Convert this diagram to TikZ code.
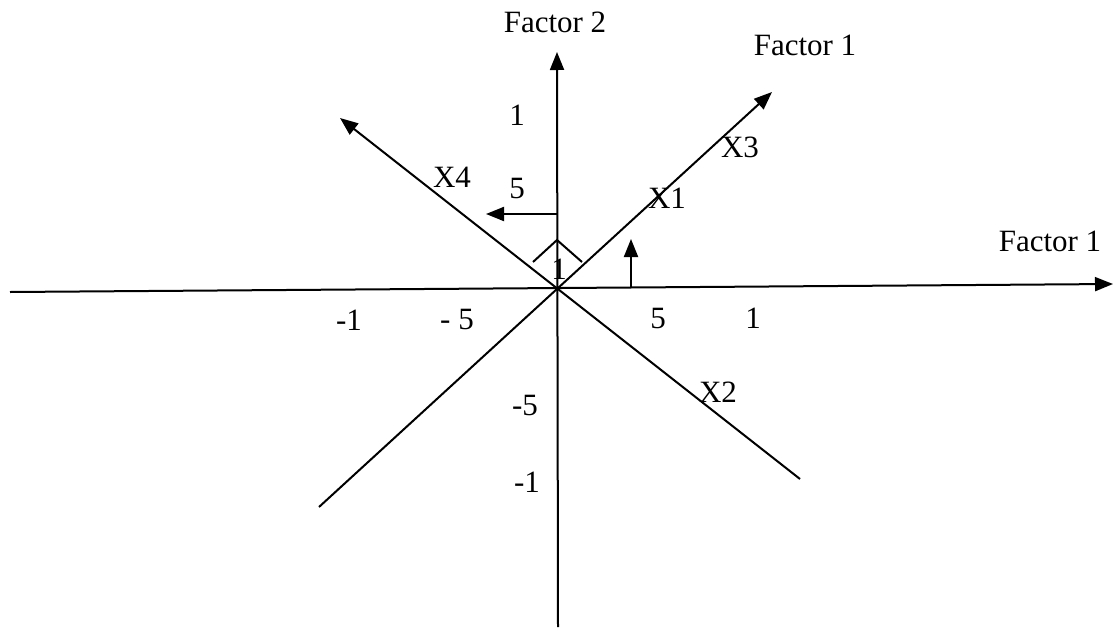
\documentclass[tikz,border=0pt]{standalone}
\usepackage{fontspec}
\setmainfont{Liberation Serif}
\usetikzlibrary{arrows.meta}
\begin{document}
\begin{tikzpicture}[x=1pt,y=-1pt,
  axisline/.style={line width=2pt,black},
  tip/.style={-{Triangle[length=18pt,width=14pt]}},
  lbl/.style={font=\fontsize{31}{36}\selectfont,inner sep=0pt,anchor=center}]
\useasboundingbox[fill=white] (0,0) rectangle (1117,627);
% key points
\coordinate (O) at (557,288);
\coordinate (hL) at (10,292);
\coordinate (hR) at (1113,284);
\coordinate (vT) at (557,52);
\coordinate (vB) at (558,627);
\coordinate (ne) at (772,92);
\coordinate (sw) at (319,507);
\coordinate (nw) at (340,118);
\coordinate (se) at (800,479);
\coordinate (la0) at (557,214);
\coordinate (la1) at (486,214);
\coordinate (ua0) at (631,288);
\coordinate (ua1) at (631,239);
\coordinate (am0) at (533,262);
\coordinate (am1) at (557,240);
\coordinate (am2) at (582,262);
% axes
\draw[axisline,tip] (hL) -- (hR);
\draw[axisline,tip] (vB) -- (vT);
\draw[axisline,tip] (sw) -- (ne);
\draw[axisline,tip] (se) -- (nw);
\draw[axisline,tip] (la0) -- (la1);
\draw[axisline,tip] (ua0) -- (ua1);
\draw[axisline] (am0) -- (am1) -- (am2);
% labels
\node[lbl] (f2) at (555,22) {Factor 2};
\node[lbl] (f1a) at (805,45) {Factor 1};
\node[lbl] (f1b) at (1050,241) {Factor 1};
\node[lbl] (v1) at (517,115) {1};
\node[lbl] (v5) at (517,188) {5};
\node[lbl] (x4) at (452,177) {X4};
\node[lbl] (x1) at (667,198) {X1};
\node[lbl] (x3) at (740,147) {X3};
\node[lbl] (c1) at (559,269) {1};
\node[lbl] (hm1) at (349,320) {-1};
\node[lbl] (hm5) at (457,319) {- 5};
\node[lbl] (hp5) at (658,318) {5};
\node[lbl] (hp1) at (753,318) {1};
\node[lbl] (x2) at (718,392) {X2};
\node[lbl] (vm5) at (525,405) {-5};
\node[lbl] (vm1) at (527,482) {-1};
\end{tikzpicture}
\end{document}
